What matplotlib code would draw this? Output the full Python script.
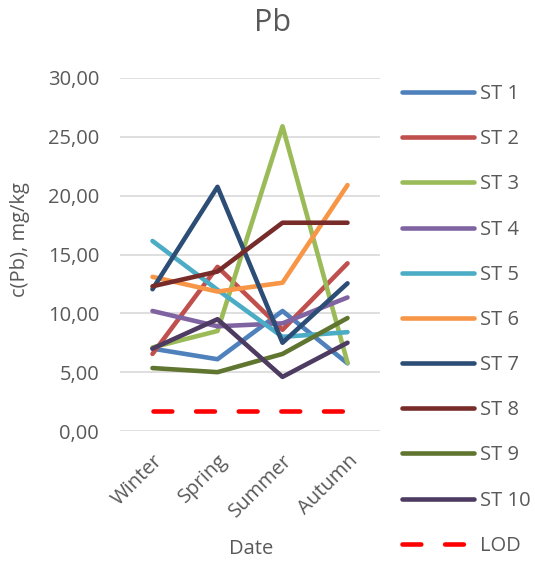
import matplotlib
matplotlib.use("Agg")
import matplotlib.pyplot as plt

plt.rcParams['font.family'] = ['Open Sans', 'DejaVu Sans']

seasons = ["Winter", "Spring", "Summer", "Autumn"]
stations = ["ST 1", "ST 2", "ST 3", "ST 4", "ST 5", "ST 6", "ST 7", "ST 8", "ST 9", "ST 10"]

st1 = [7.0, 6.1, 10.2, 5.75]
st2 = [6.55, 13.95, 8.6, 14.25]
st3 = [7.1, 8.5, 25.9, 5.8]
st4 = [10.2, 8.9, 9.15, 11.35]
st5 = [16.15, 12.0, 8.0, 8.4]
st6 = [13.1, 11.85, 12.6, 20.9]
st7 = [12.05, 20.75, 7.5, 12.55]
st8 = [12.3, 13.55, 17.7, 17.7]
st9 = [5.35, 5.0, 6.55, 9.6]
st10 = [7.0, 9.5, 4.6, 7.5]
lod = [1.7, 1.7, 1.7, 1.7]

series = [st1, st2, st3, st4, st5, st6, st7, st8, st9, st10]
colors = ["#4F81BD", "#C0504D", "#9BBB59", "#8064A2", "#4BACC6",
          "#F79646", "#2C4D75", "#772C2A", "#5F7530", "#4D3B62"]

W, H = 535, 566
fs = 14.5
fig = plt.figure(figsize=(W / 100, H / 100), dpi=100)
ax = fig.add_axes([120 / W, 1 - 431 / H, 260 / W, 353 / H])

x = range(len(seasons))
for name, vals, c in zip(stations, series, colors):
    ax.plot(x, vals, color=c, lw=3.3, label=name,
            solid_capstyle='round', solid_joinstyle='round')
ax.plot(x, lod, color="#FF0000", lw=3.3, label="LOD",
        linestyle=(0, (4.1, 5.2)), dash_capstyle='round')

ax.set_xlim(-0.5, 3.5)
ax.set_ylim(0, 30)
ax.set_yticks(range(0, 31, 5))
ax.set_yticklabels([f"{v},00" for v in range(0, 31, 5)])
ax.set_xticks(list(x))
ax.set_xticklabels(seasons, rotation=45, ha='right', va='top', rotation_mode='anchor')
ax.grid(axis='y', color="#D9D9D9", lw=1.2)
ax.set_axisbelow(True)
for s in ax.spines.values():
    s.set_visible(False)
ax.tick_params(length=0, labelsize=fs, colors="#595959")
ax.tick_params(axis='y', pad=15)
ax.tick_params(axis='x', pad=14)

fig.text(273 / W, 1 - 23 / H, "Pb", fontsize=22, color="#595959", ha='center', va='center')
fig.text(20 / W, 1 - 240 / H, "c(Pb), mg/kg", fontsize=fs, color="#595959",
         rotation=90, ha='center', va='center')
fig.text(251 / W, 1 - 549 / H, "Date", fontsize=fs, color="#595959", ha='center', va='center')

leg = fig.legend(loc='upper left', bbox_to_anchor=(394 / W, 1 - 76 / H), frameon=False,
                 fontsize=fs, handlelength=3.55, handletextpad=0.3, labelspacing=1.25,
                 borderaxespad=0)
for t in leg.get_texts():
    t.set_color("#595959")

fig.savefig("out.png", dpi=100)
